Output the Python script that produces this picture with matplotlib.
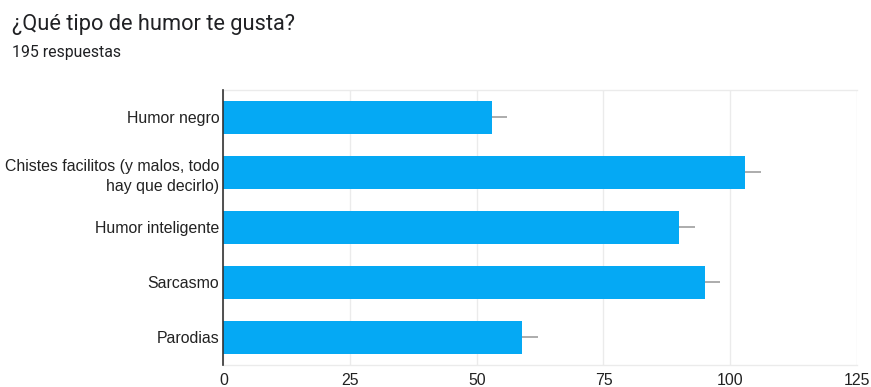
import matplotlib
matplotlib.use("Agg")
import matplotlib.pyplot as plt

categories = ["Humor negro", "Chistes facilitos (y malos, todo\nhay que decirlo)",
              "Humor inteligente", "Sarcasmo", "Parodias"]
values = [53, 103, 90, 95, 59]
errors = [3, 3, 3, 3, 3]
xticks = [0, 25, 50, 75, 100, 125]

fig = plt.figure(figsize=(8.71, 3.87), dpi=100)
ax = fig.add_axes([0.2566, 0.0581, 0.7271, 0.7093])

y = list(range(len(categories)))
ax.barh(y, values, height=0.6, color="#05a9f4", zorder=3)
ax.errorbar(values, y, xerr=[[0]*len(errors), errors], fmt="none",
            ecolor="#9e9e9e", elinewidth=1.2, capsize=0, zorder=4)

ax.set_ylim(4.5, -0.5)
ax.set_xlim(0, 125)
ax.set_xticks(xticks)
ax.set_xticklabels([str(t) for t in xticks])
ax.set_yticks(y)
ax.set_yticklabels(categories, ha="right", multialignment="right", linespacing=1.4)
ax.grid(axis="x", color="#ebebeb", linewidth=1, zorder=0)
ax.tick_params(axis="both", length=0, labelsize=11.4, colors="#222222")
for lab in ax.get_xticklabels() + ax.get_yticklabels():
    lab.set_fontfamily("Liberation Sans")
ax.tick_params(axis="y", pad=3)
ax.tick_params(axis="x", pad=6)

ax.spines["left"].set_color("#333333")
ax.spines["left"].set_linewidth(1.2)
ax.spines["left"].set_zorder(5)
for s in ["top", "bottom", "right"]:
    ax.spines[s].set_color("#ebebeb")
    ax.spines[s].set_linewidth(1)
ax.spines["right"].set_visible(False)

fig.text(12/871, 1 - 30/387, "¿Qué tipo de humor te gusta?", fontsize=15.7,
         family="Roboto", color="#202124", va="baseline", ha="left")
fig.text(12/871, 1 - 57/387, "195 respuestas", fontsize=11.4,
         family="Roboto", color="#202124", va="baseline", ha="left")

fig.savefig("out.png", dpi=100)
